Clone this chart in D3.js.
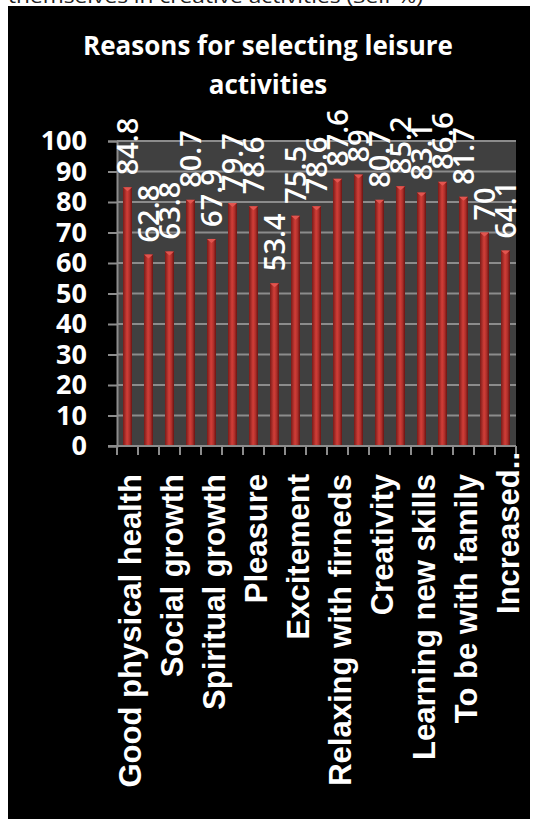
<!DOCTYPE html>
<html>
<head>
<meta charset="utf-8">
<script src="https://cdn.jsdelivr.net/npm/d3@7"></script>
<style>
  body { margin: 0; background: #fff; }
  svg { display: block; }
</style>
</head>
<body>
<svg width="539" height="819"></svg>
<script>
// chart data
const categories = ['Good physical health', '', 'Social growth', '', 'Spiritual growth', '', 'Pleasure', '',
  'Excitement', '', 'Relaxing with firneds', '', 'Creativity', '', 'Learning new skills', '',
  'To be with family', '', 'Increased..']
const values = [84.8, 62.8, 63.8, 80.7, 67.9, 79.7, 78.6, 53.4, 75.5, 78.6, 87.6, 89, 80.7, 85.2, 83.1, 86.6, 81.7, 70, 64.1]
const yTicks = [0, 10, 20, 30, 40, 50, 60, 70, 80, 90, 100]
const titleLines = ['Reasons for selecting leisure', 'activities']
const captionAbove = 'themselves in creative activities (Self %)'

const svg = d3.select('svg')

// plot box
const plot = {left: 117, right: 516, top: 141, bottom: 446}

const x = d3.scaleBand()
.domain(d3.range(values.length))
.range([plot.left, plot.right])
.paddingInner(0)
.paddingOuter(0)

const y = d3.scaleLinear()
.domain([0, 100])
.range([plot.bottom, plot.top])

// gradients for the cylinder bars
const defs = svg.append('defs')

const barFill = defs
.append('linearGradient')
.attr('id', 'barFill')
.attr('x1', '0%').attr('x2', '100%')
.attr('y1', '0%').attr('y2', '0%')

barFill.append('stop').attr('offset', '0%').attr('stop-color', '#7a1b18')
barFill.append('stop').attr('offset', '45%').attr('stop-color', '#d13e38')
barFill.append('stop').attr('offset', '70%').attr('stop-color', '#b3312c')
barFill.append('stop').attr('offset', '100%').attr('stop-color', '#6a1412')

// the cut off text line above the figure
svg
.append('text')
.attr('x', 8)
.attr('y', 3)
.attr('font-family', 'Open Sans, sans-serif')
.attr('font-size', 19)
.attr('fill', '#222')
.attr('textLength', 415)
.attr('lengthAdjust', 'spacingAndGlyphs')
.text(captionAbove)

// black background of the chart
svg
.append('rect')
.attr('x', 8)
.attr('y', 6)
.attr('width', 522)
.attr('height', 813)
.attr('fill', '#000')

// title
svg
.append('g')
.selectAll('text')
.data(titleLines)
.enter()
.append('text')
.attr('x', 268)
.attr('y', (d, i) => 55 + i * 39)
.attr('text-anchor', 'middle')
.attr('font-family', 'Open Sans, sans-serif')
.attr('font-weight', 'bold')
.attr('font-size', 26)
.attr('fill', '#fff')
.text(d => d)

// plot area
svg
.append('rect')
.attr('x', plot.left)
.attr('y', plot.top)
.attr('width', plot.right - plot.left)
.attr('height', plot.bottom - plot.top)
.attr('fill', '#404040')

// y axis with its tick labels
const yAxis = svg
.append('g')
.attr('transform', `translate(${plot.left}, 0)`)
.call(d3.axisLeft(y).tickValues(yTicks).tickSize(9).tickPadding(21))

yAxis.select('.domain').attr('stroke', '#8c8c8c').attr('stroke-width', 2)
yAxis.selectAll('.tick line').attr('stroke', '#8c8c8c').attr('stroke-width', 2)
yAxis.selectAll('.tick text')
.attr('fill', '#fff')
.attr('font-family', 'Open Sans, sans-serif')
.attr('font-weight', 'bold')
.attr('font-size', 27)

// gridlines
svg
.append('g')
.selectAll('line')
.data(yTicks.filter(d => d > 0))
.enter()
.append('line')
.attr('x1', plot.left)
.attr('x2', plot.right)
.attr('y1', d => y(d))
.attr('y2', d => y(d))
.attr('stroke', '#8c8c8c')
.attr('stroke-width', 2)

// bars
const barW = 9
const bars = svg
.append('g')
.selectAll('g')
.data(values)
.enter()
.append('g')
.attr('transform', (d, i) => `translate(${x(i) + x.bandwidth() / 2}, 0)`)

bars
.append('rect')
.attr('x', -barW / 2)
.attr('y', d => y(d))
.attr('width', barW)
.attr('height', d => y(0) - y(d))
.attr('fill', 'url(#barFill)')

bars
.append('path')
.attr('d', d => `M${-barW / 2},${y(d)} L${barW / 2},${y(d)} L0,${y(d) + 4} Z`)
.attr('fill', '#e2554f')

// x axis line and ticks between categories
svg
.append('line')
.attr('x1', plot.left - 9)
.attr('x2', plot.right)
.attr('y1', plot.bottom)
.attr('y2', plot.bottom)
.attr('stroke', '#8c8c8c')
.attr('stroke-width', 2)

svg
.append('g')
.selectAll('line')
.data(d3.range(values.length + 1))
.enter()
.append('line')
.attr('x1', d => plot.left + d * x.step())
.attr('x2', d => plot.left + d * x.step())
.attr('y1', plot.bottom)
.attr('y2', plot.bottom + 9)
.attr('stroke', '#8c8c8c')
.attr('stroke-width', 2)

// value labels above the bars
bars
.append('text')
.attr('transform', d => `translate(0, ${y(d) - 12}) rotate(-90)`)
.attr('dy', '0.36em')
.attr('font-family', 'Open Sans, sans-serif')
.attr('font-weight', 600)
.attr('font-size', 29)
.attr('fill', '#fff')
.text(d => d)

// category labels (every other one shown, like the original)
svg
.append('g')
.selectAll('text')
.data(categories)
.enter()
.append('text')
.attr('transform', (d, i) => `translate(${x(i) + x.bandwidth() / 2 + 2}, ${d.endsWith('..') ? 452 : 474}) rotate(-90)`)
.attr('dy', '0.36em')
.attr('text-anchor', 'end')
.attr('font-family', 'Liberation Sans, Arial, sans-serif')
.attr('font-weight', 'bold')
.attr('font-size', 31)
.attr('fill', '#fff')
.text(d => d)
</script>
</body>
</html>
